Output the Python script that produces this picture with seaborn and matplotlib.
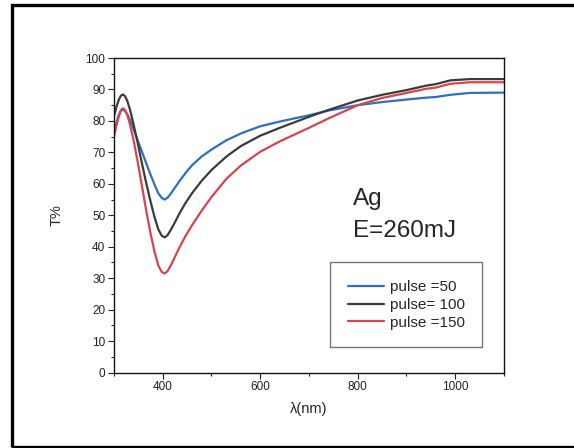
import pandas as pd
import seaborn as sns
import matplotlib.pyplot as plt
from matplotlib.patches import Rectangle
from matplotlib.ticker import MultipleLocator

# Wavelength grid (nm)
wavelength = [300, 305, 310, 314, 318, 322, 327, 333, 340, 348, 356, 365, 374,
              383, 391, 398, 404, 410, 417, 425, 435, 447, 460, 480, 500, 530,
              560, 600, 640, 700, 740, 800, 850, 900, 940, 960, 990, 1030, 1100]

# Transmission (%) for each pulse count
t_pulse50 = [76, 79.5, 82, 83.2, 83.6, 83.3, 82.2, 80.3, 77.5, 74, 70.8, 67, 63.3,
             59.8, 57, 55.5, 55, 55.6, 57, 58.8, 61, 63.5, 65.9, 68.7, 70.9, 73.8,
             76, 78.3, 79.8, 81.8, 83.3, 85, 86, 86.8, 87.4, 87.6, 88.3, 88.9, 89]
t_pulse100 = [81.5, 84.5, 86.8, 88, 88.4, 88, 86.5, 83.5, 79, 73.5, 67.5, 61, 55,
              49.5, 45.5, 43.5, 43, 43.7, 45.5, 47.8, 50.8, 54, 57, 61, 64.4, 68.6,
              72, 75.3, 77.8, 81.3, 83.5, 86.5, 88.3, 89.8, 91.2, 91.7, 92.9, 93.3, 93.3]
t_pulse150 = [75, 78.5, 81.5, 83.3, 84, 83.6, 82, 78.8, 74, 67.5, 60.5, 52.5, 45,
              38.5, 34, 32, 31.5, 32.3, 34.2, 36.8, 40, 43.5, 46.8, 51.5, 55.8, 61.5,
              65.8, 70.2, 73.5, 77.8, 80.8, 85, 87.3, 88.9, 90.2, 90.6, 91.8, 92.3, 92.3]

labels = ["pulse =50", "pulse= 100", "pulse =150"]
colors = ["#2f6fc0", "#3b3b3b", "#d9434b"]


def build_frame():
    parts = []
    for lab, vals in zip(labels, [t_pulse50, t_pulse100, t_pulse150]):
        parts.append(pd.DataFrame({"wl": wavelength, "T": vals, "series": lab}))
    return pd.concat(parts, ignore_index=True)


df = build_frame()

sns.set_theme(style="ticks")
plt.rcParams["font.family"] = ["Liberation Sans", "DejaVu Sans"]

fig = plt.figure(figsize=(5.74, 4.48), dpi=100)
ax = fig.add_axes([0.1986, 0.1683, 0.6794, 0.7022])

sns.lineplot(data=df, x="wl", y="T", hue="series", hue_order=labels,
             palette=colors, linewidth=1.6, ax=ax, sort=False)

ax.set_xlim(300, 1100)
ax.set_ylim(0, 100)
ax.xaxis.set_major_locator(MultipleLocator(200))
ax.xaxis.set_minor_locator(MultipleLocator(100))
ax.yaxis.set_major_locator(MultipleLocator(10))
ax.yaxis.set_minor_locator(MultipleLocator(5))
ax.set_xticks([400, 600, 800, 1000])
ax.tick_params(which="major", length=4.3, width=0.8, labelsize=8.5, pad=2,
               colors="#222222")
ax.tick_params(which="minor", length=2.2, width=0.8)
for s in ax.spines.values():
    s.set_visible(True)
    s.set_linewidth(1.0)
    s.set_color("#111111")

ax.set_xlabel("λ(nm)", fontsize=10.5, labelpad=6)
ax.set_ylabel("T%", fontsize=10.5, labelpad=16)

ax.text(0.613, 0.532, "Ag", transform=ax.transAxes, fontsize=17.5,
        va="baseline", ha="left")
ax.text(0.613, 0.431, "E=260mJ", transform=ax.transAxes, fontsize=17.5,
        va="baseline", ha="left")

leg = ax.legend(loc="upper left", bbox_to_anchor=(0.554, 0.35), fontsize=11,
                frameon=True, fancybox=False, borderpad=1.15, labelspacing=0.25,
                handlelength=2.4, handletextpad=0.35, borderaxespad=0)
leg.get_frame().set_edgecolor("#555555")
leg.get_frame().set_linewidth(1.0)
for line in leg.get_lines():
    line.set_linewidth(1.6)

# outer black frame around the picture
fig.patches.append(Rectangle((11.5 / 574, 1.5 / 448), 1.0, 441 / 448,
                             transform=fig.transFigure, fill=False,
                             edgecolor="black", linewidth=2.4))

fig.savefig("out.png", dpi=100)
